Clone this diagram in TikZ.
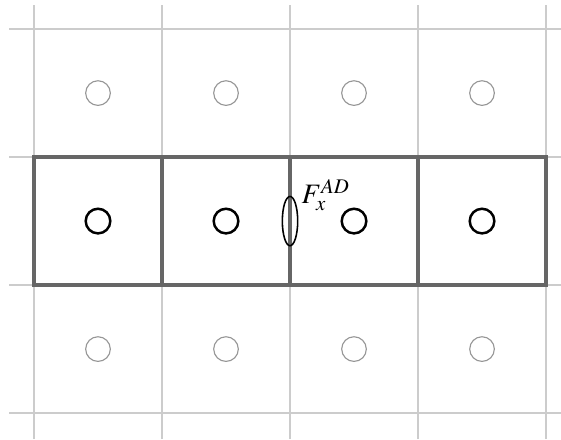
\documentclass[tikz,border=0pt]{standalone}
\usepackage{mathptmx}
\usepackage{tikz}
\usetikzlibrary{positioning,shapes.geometric}
\definecolor{gridgrey}{RGB}{204,204,204}
\definecolor{cellgrey}{RGB}{102,102,102}
\definecolor{dotgrey}{RGB}{150,150,150}

\begin{document}
\begin{tikzpicture}[
  x=2cm, y=2cm,
  gridline/.style={draw=gridgrey, line width=0.6pt},
  cellbox/.style={draw=cellgrey, line width=1.8pt},
  ghost/.style={circle, draw=dotgrey, line width=0.5pt, minimum size=0.385cm, inner sep=0pt},
  active/.style={circle, draw=black, line width=1.1pt, minimum size=0.385cm, inner sep=0pt},
  face/.style={ellipse, draw=black, line width=0.7pt, minimum width=0.24cm,
               minimum height=0.77cm, inner sep=0pt},
  lbl/.style={font=\fontsize{12.5}{15}\selectfont, inner sep=1pt}
]
\useasboundingbox (-0.2656,-0.203) rectangle (4.117,3.227);

% background grid
\foreach \i in {0,...,4}
  \draw[gridline] (\i,-0.203) -- (\i,3.185);
\foreach \j in {0,...,3}
  \draw[gridline] (-0.195,\j) -- (4.117,\j);

% ghost cells, top and bottom rows
\foreach \i in {0,...,3} {
  \node[ghost] (t\i) at (\i+0.5,2.5) {};
  \node[ghost] (b\i) at (\i+0.5,0.5) {};
}

% active row
\foreach \i in {0,...,3} {
  \draw[cellbox] (\i,1) rectangle (\i+1,2);
  \node[active] (m\i) at (\i+0.5,1.5) {};
}

% face flux
\node[face] (fx) at (2,1.5) {};
\node[lbl, anchor=south west] (flab) at (2.07,1.56) {$F_x^{AD}$};

\end{tikzpicture}
\end{document}
